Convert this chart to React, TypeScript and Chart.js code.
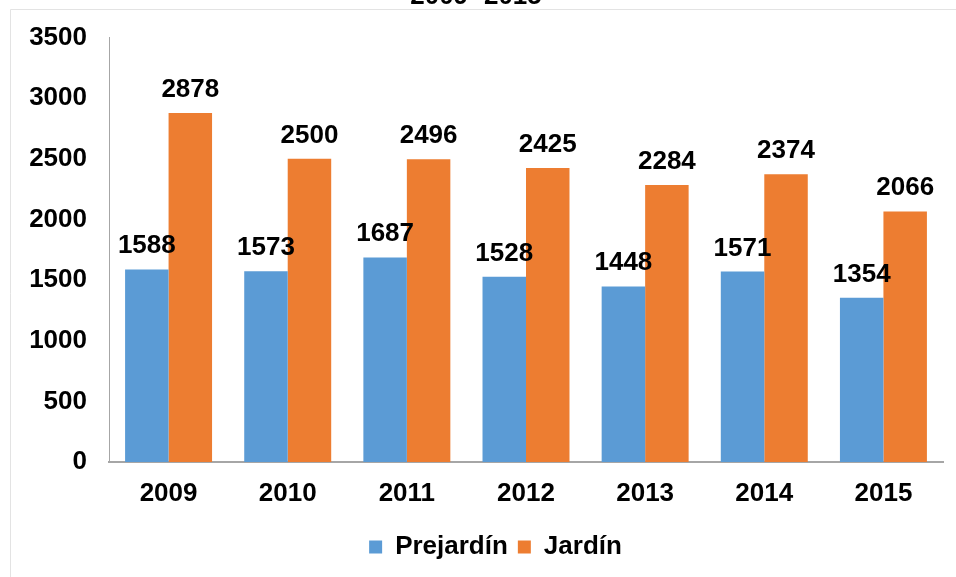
import React, { useEffect, useRef } from "react";
import { Chart, registerables } from "chart.js";

Chart.register(...registerables);

const categories = ["2009", "2010", "2011", "2012", "2013", "2014", "2015"];
const prejardin = [1588, 1573, 1687, 1528, 1448, 1571, 1354];
const jardin = [2878, 2500, 2496, 2425, 2284, 2374, 2066];
const seriesNames = ["Prejardín", "Jardín"];
const titleText = "2009- 2015";
const yTicks = [0, 500, 1000, 1500, 2000, 2500, 3000, 3500];

const FONT = "'Liberation Sans', Arial, sans-serif";
const FSIZE = 26;

const framePlugin = {
  id: "frame",
  afterLayout(chart: any) {
    // legend is centred slightly to the right in the original
    if (chart.legend) {
      chart.legend.left += 24;
      chart.legend.right += 24;
    }
  },
  beforeDraw(chart: any) {
    const ctx = chart.ctx;
    ctx.save();
    ctx.strokeStyle = "#e3e3e3";
    ctx.lineWidth = 1;
    ctx.beginPath();
    ctx.moveTo(10.5, 577);
    ctx.lineTo(10.5, 9.5);
    ctx.lineTo(956, 9.5);
    ctx.stroke();
    // cut-off title (only bottom visible)
    ctx.fillStyle = "#000";
    ctx.font = `bold ${FSIZE}px ${FONT}`;
    ctx.textAlign = "center";
    ctx.textBaseline = "alphabetic";
    ctx.fillText(titleText, 476, 4);
    ctx.restore();
  },
};

const dataLabelPlugin = {
  id: "dataLabels",
  afterDatasetsDraw(chart: any) {
    const ctx = chart.ctx;
    ctx.save();
    ctx.fillStyle = "#000";
    ctx.font = `bold ${FSIZE}px ${FONT}`;
    ctx.textAlign = "center";
    ctx.textBaseline = "alphabetic";
    chart.data.datasets.forEach((ds: any, di: number) => {
      const meta = chart.getDatasetMeta(di);
      meta.data.forEach((bar: any, i: number) => {
        ctx.fillText(String(ds.data[i]), bar.x, bar.y - 16);
      });
    });
    ctx.restore();
  },
};

export default function App() {
  const ref = useRef<HTMLCanvasElement | null>(null);
  useEffect(() => {
    if (!ref.current) return;
    const chart = new Chart(ref.current, {
      type: "bar",
      data: {
        labels: categories,
        datasets: [
          { label: seriesNames[0], data: prejardin, backgroundColor: "#5B9BD5", borderWidth: 0 },
          { label: seriesNames[1], data: jardin, backgroundColor: "#ED7D31", borderWidth: 0 },
        ],
      },
      options: {
        animation: false,
        responsive: false,
        maintainAspectRatio: false,
        layout: { padding: { top: 37, right: 13, left: 0, bottom: 7 } },
        datasets: { bar: { categoryPercentage: 0.73, barPercentage: 1 } },
        scales: {
          x: {
            grid: { display: false, drawTicks: false },
            border: { display: true, color: "#a6a6a6", width: 2 },
            ticks: { color: "#000", font: { family: FONT, size: FSIZE, weight: "bold" }, padding: 16 },
            afterFit: (s: any) => { s.height = 62; },
          },
          y: {
            min: 0,
            max: 3500,
            grid: { display: false, drawTicks: false },
            border: { display: true, color: "#a6a6a6", width: 1 },
            afterBuildTicks: (s: any) => { s.ticks = yTicks.map((v) => ({ value: v })); },
            ticks: {
              color: "#000",
              font: { family: FONT, size: FSIZE, weight: "bold" },
              padding: 22,
              callback: (v: any) => String(v),
            },
            afterFit: (s: any) => { s.width = 109; },
          },
        },
        plugins: {
          title: { display: false },
          tooltip: { enabled: false },
          legend: {
            display: true,
            position: "bottom",
            labels: {
              color: "#000",
              font: { family: FONT, size: FSIZE, weight: "bold" },
              boxWidth: 13,
              boxHeight: 13,
              padding: 10,
            },
          },
        },
      },
      plugins: [framePlugin, dataLabelPlugin],
    });
    return () => chart.destroy();
  }, []);
  return (
    <div style={{ position: "absolute", left: 0, top: 0, width: 956, height: 577, background: "#fff" }}>
      <canvas ref={ref} width={956} height={577} style={{ display: "block" }} />
    </div>
  );
}
